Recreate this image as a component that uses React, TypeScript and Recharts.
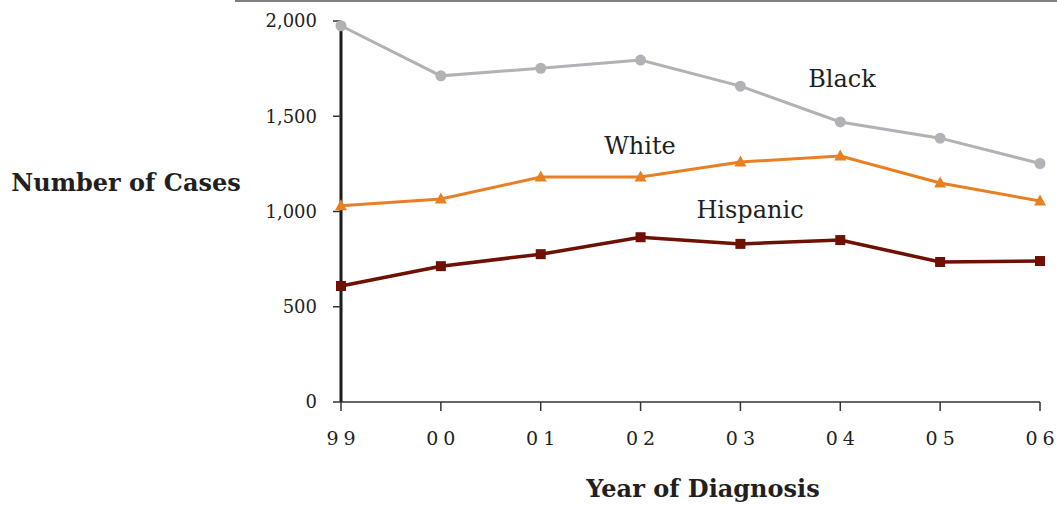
import React from 'react';
import { LineChart, Line, XAxis, YAxis, Customized } from 'recharts';

const years = ['99', '00', '01', '02', '03', '04', '05', '06'];
const black = [1975, 1712, 1752, 1795, 1658, 1470, 1385, 1252];
const white = [1030, 1066, 1181, 1181, 1260, 1291, 1150, 1055];
const hispanic = [609, 713, 776, 865, 830, 850, 735, 740];
const yTicks = [0, 500, 1000, 1500, 2000];

const data = years.map((y, i) => ({
  year: y,
  Black: black[i],
  White: white[i],
  Hispanic: hispanic[i],
}));

const FONT = '"DejaVu Serif", serif';
const INK = '#231f20';
const GRAY = '#b1b2b5';
const ORANGE = '#e87f22';
const RED = '#6e1004';

const circleDot = (p: any) => (
  <circle key={`c-${p.index}`} cx={p.cx} cy={p.cy} r={5.5} fill={GRAY} stroke="none" />
);
const triDot = (p: any) => (
  <path
    key={`t-${p.index}`}
    d={`M${p.cx} ${p.cy - 6.5} L${p.cx + 6} ${p.cy + 4.5} L${p.cx - 6} ${p.cy + 4.5} Z`}
    fill={ORANGE}
    stroke="none"
  />
);
const sqDot = (p: any) => (
  <rect key={`s-${p.index}`} x={p.cx - 5} y={p.cy - 5} width={10} height={10} fill={RED} stroke="none" />
);

// spaced-out digits, e.g. "9 9"
const XTick = (props: any) => {
  const { x, y, payload } = props;
  const s = String(payload.value);
  return (
    <text x={x} y={y} dy="0.71em" textAnchor="middle" fill={INK}
      style={{ fontFamily: FONT, fontSize: 19 }}>
      <tspan>{s[0]}</tspan>
      <tspan dx={5}>{s[1]}</tspan>
    </text>
  );
};

// annotation text + titles
const Annotations = () => (
  <g style={{ fontFamily: FONT }} fill={INK}>
    <line x1={235} y1={1} x2={1057} y2={1} stroke="#808080" strokeWidth={2} />
    <text x={842} y={87} textAnchor="middle" fontSize={24}>Black</text>
    <text x={640} y={154} textAnchor="middle" fontSize={24}>White</text>
    <text x={750} y={218} textAnchor="middle" fontSize={24}>Hispanic</text>
    <text x={126} y={191} textAnchor="middle" fontSize={24} fontWeight="bold">Number of Cases</text>
    <text x={703} y={497} textAnchor="middle" fontSize={24} fontWeight="bold">Year of Diagnosis</text>
  </g>
);

export default function App() {
  return (
    <div style={{ position: 'absolute', left: 0, top: 0 }}>
      <LineChart width={1057} height={506} data={data}
        margin={{ top: 21, right: 17, bottom: 44, left: 0 }}>
        <XAxis dataKey="year" height={60} interval={0}
          axisLine={{ stroke: '#333', strokeWidth: 1.5 }}
          tickLine={{ stroke: '#333', strokeWidth: 1.5 }}
          tickSize={9} tickMargin={21} tick={<XTick />} />
        <YAxis width={341} domain={[0, 2000]} ticks={yTicks} interval={0}
          tickFormatter={(v: number) => v.toLocaleString('en-US')}
          axisLine={{ stroke: '#1a1a1a', strokeWidth: 3 }}
          tickLine={{ stroke: '#333', strokeWidth: 1.5 }}
          tickSize={8} tickMargin={16}
          tick={{ fill: INK, fontFamily: FONT, fontSize: 18 }} />
        <Line dataKey="Black" stroke={GRAY} strokeWidth={3} dot={circleDot} isAnimationActive={false} />
        <Line dataKey="White" stroke={ORANGE} strokeWidth={3} dot={triDot} isAnimationActive={false} />
        <Line dataKey="Hispanic" stroke={RED} strokeWidth={3.5} dot={sqDot} isAnimationActive={false} />
        <Customized component={Annotations} />
      </LineChart>
    </div>
  );
}
